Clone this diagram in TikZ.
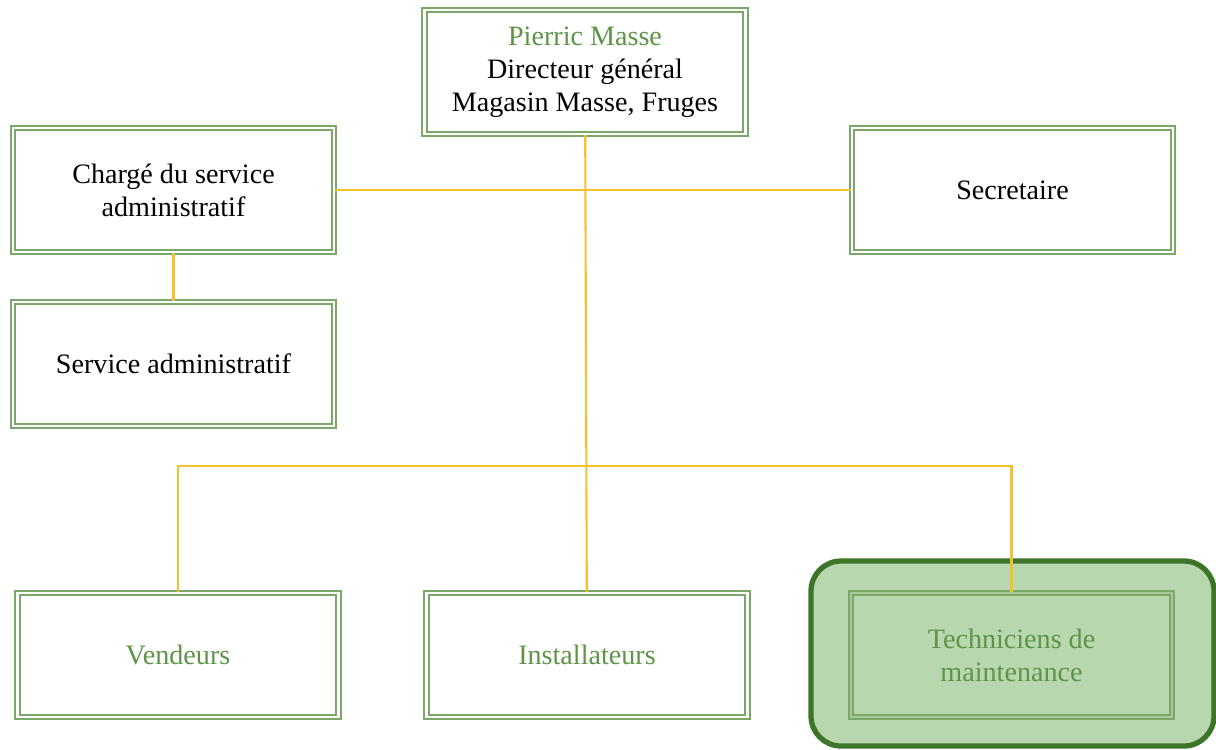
\documentclass[tikz,border=0pt]{standalone}
\usepackage{fontspec}
\setmainfont{Liberation Serif}
\usetikzlibrary{positioning}

\definecolor{boxgreen}{HTML}{7BA868}
\definecolor{textgreen}{HTML}{5E9447}
\definecolor{linkyellow}{HTML}{F2C22E}
\definecolor{hlfill}{HTML}{B8D7AF}
\definecolor{hldark}{HTML}{3D7528}

\begin{document}
\begin{tikzpicture}[
    orgbox/.style={draw=boxgreen, line width=0.6pt, double=white, double distance=0.7pt,
        minimum width=3.21cm, minimum height=1.24cm, align=center,
        font=\fontsize{8}{9.4}\selectfont},
    link/.style={draw=linkyellow, line width=0.6pt}
]
    \useasboundingbox (0,0) rectangle (12.16,-7.49);

    % highlight behind the maintenance box
    \draw[draw=hldark, fill=hlfill, line width=1.5pt, rounded corners=0.3cm]
        (8.11,-5.61) rectangle (12.14,-7.46);

    \node[orgbox] (dg) at (5.85,-0.72)
        {\textcolor{textgreen}{Pierric Masse}\\Directeur général\\Magasin Masse, Fruges};
    \node[orgbox] (charge) at (1.735,-1.90) {Chargé du service\\administratif};
    \node[orgbox] (secr) at (10.125,-1.90) {Secretaire};
    \node[orgbox] (servadm) at (1.735,-3.64) {Service administratif};
    \node[orgbox, text=textgreen] (vend) at (1.78,-6.55) {Vendeurs};
    \node[orgbox, text=textgreen] (inst) at (5.87,-6.55) {Installateurs};
    \node[orgbox, text=textgreen, fill=hlfill, double=hlfill!70!boxgreen] (tech) at (10.115,-6.55)
        {Techniciens de\\maintenance};

    \coordinate (split) at (5.85,-4.66);
    \draw[link] (dg) -- (inst);
    \draw[link] (charge) -- (secr);
    \draw[link] (charge) -- (servadm);
    \draw[link] (vend.north) |- (split) -| (tech.north);
\end{tikzpicture}
\end{document}
